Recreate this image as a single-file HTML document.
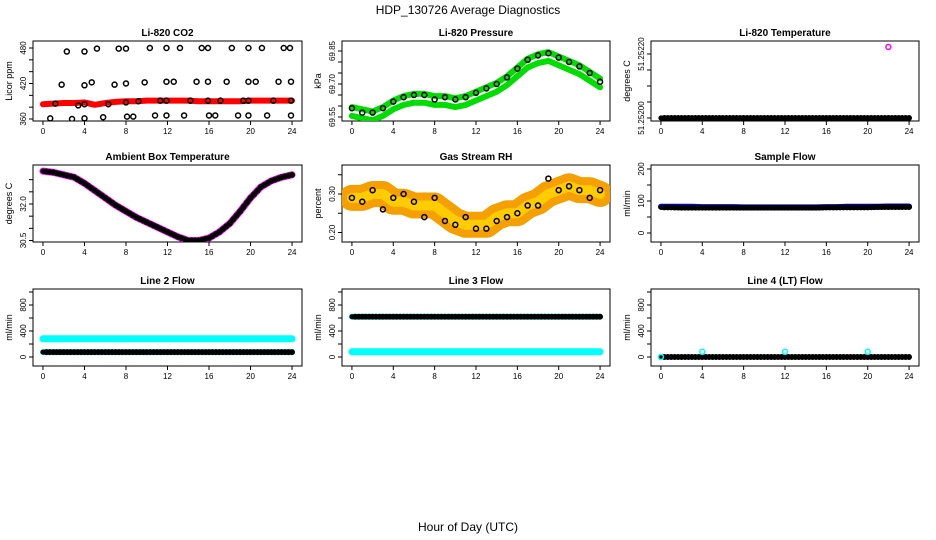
<!DOCTYPE html>
<html><head><meta charset="utf-8"><style>
html,body{margin:0;padding:0;background:#fff}
svg{display:block;font-family:"Liberation Sans",sans-serif}
</style></head><body>
<svg id="c" width="936" height="540" viewBox="0 0 936 540">
<text x="468" y="14" text-anchor="middle" font-size="12">HDP_130726  Average Diagnostics</text>
<text x="468" y="531" text-anchor="middle" font-size="12">Hour of Day (UTC)</text>
</svg>
<script>
const H=[0,1,2,3,4,5,6,7,8,9,10,11,12,13,14,15,16,17,18,19,20,21,22,23,24];
const xTicks=[0,4,8,12,16,20,24];
// CO2
const co2Red=[385,386,387,387,388,384,387,389,390,390,391,391,391,391,391,390,390,390,390,390,391,391,391,391,391];
const co2BlackX=[0.7,1.2,2.3,1.8,2.8,3.4,4,4,4,4,4.7,5.2,5.8,6.3,6.9,7.3,8,8,8,8.1,8.7,9.2,9.8,10.3,10.8,11.3,11.9,11.9,11.9,11.9,12.6,13.2,13.6,14.2,14.8,15.3,15.9,15.9,15.9,16,16.6,17.1,17.7,18.2,18.8,19.3,19.8,19.8,19.8,19.8,20.5,21.1,21.6,22.2,22.7,23.2,23.8,23.9,23.9,23.9];
const co2BlackY=[361,386,474,418,360,383,385,474,417,361,422,479,363,385,418,479,479,420,388,364,364,390,422,480,366,391,480,423,391,366,423,480,366,391,423,480,480,423,391,366,366,391,423,480,366,391,480,423,391,366,423,480,366,391,423,480,480,423,391,366];
// Pressure
const presGreen=[69.58,69.57,69.56,69.58,69.61,69.63,69.64,69.64,69.63,69.63,69.62,69.63,69.65,69.67,69.69,69.72,69.76,69.80,69.82,69.83,69.81,69.79,69.77,69.74,69.71];
const presBlack=[69.59,69.57,69.57,69.59,69.62,69.64,69.65,69.65,69.63,69.64,69.63,69.64,69.66,69.68,69.70,69.73,69.77,69.81,69.83,69.84,69.82,69.80,69.78,69.75,69.71];
// Li-820 temperature
const tempMag=[51.252,51.252,51.252,51.252,51.252,51.252,51.252,51.252,51.252,51.252,51.252,51.252,51.252,51.252,51.252,51.252,51.252,51.252,51.252,51.252,51.252,51.252,51.252,51.252,51.252];
const tempOutX=[22];
const tempOutY=[51.252222];
// Ambient
const ambT=[33.35,33.3,33.2,33.1,32.85,32.55,32.25,31.95,31.7,31.45,31.25,31.05,30.85,30.65,30.5,30.5,30.6,30.85,31.2,31.7,32.25,32.7,32.95,33.1,33.2];
// RH
const rhBand=[0.29,0.29,0.30,0.30,0.28,0.28,0.27,0.27,0.27,0.25,0.23,0.22,0.22,0.22,0.24,0.25,0.25,0.27,0.28,0.30,0.31,0.32,0.31,0.31,0.30];
const rhBlack=[0.29,0.28,0.31,0.26,0.29,0.30,0.28,0.24,0.29,0.23,0.22,0.24,0.21,0.21,0.23,0.24,0.25,0.27,0.27,0.34,0.31,0.32,0.31,0.29,0.31];
// Flows
const sampleBlue=[82,82,82,82,81,81,81,81,80,80,80,80,80,80,80,80,81,81,82,82,82,82,83,83,83];
const sampleBlack=[80,80,79,79,79,79,79,79,79,79,79,79,79,79,79,79,80,80,80,80,80,81,81,81,81];
const l2Cyan=[280,280,280,280,280,280,280,280,280,280,280,280,280,280,280,280,280,280,280,280,280,280,280,280,280];
const l2Black=[75,75,75,75,75,75,75,75,75,75,75,75,75,75,75,75,75,75,75,75,75,75,75,75,75];
const l3Cyan=[620,620,620,620,620,620,620,620,620,620,620,620,620,620,620,620,620,620,620,620,620,620,620,620,620];
const l3Low=[80,80,80,80,80,80,80,80,80,80,80,80,80,80,80,80,80,80,80,80,80,80,80,80,80];
const l4Black=[0,0,0,0,0,0,0,0,0,0,0,0,0,0,0,0,0,0,0,0,0,0,0,0,0];
const l4SpikeX=[0,4,12,20];
const l4SpikeY=[0,80,80,80];

const NS="http://www.w3.org/2000/svg";
const svg=document.getElementById('c');
function mk(tag,attrs,parent){const e=document.createElementNS(NS,tag);for(const k in attrs)e.setAttribute(k,attrs[k]);(parent||svg).appendChild(e);return e;}
const cols=[[33,302],[342,610],[651,919]];
const rows=[[41,121],[165,242],[289,366]];
function panel(col,row,title,ylab,cal,ticks,labels,name){
  const [x0,x1]=cols[col],[y0,y1]=rows[row];
  const g=mk('g',{});
  
  
  const w=x1-x0;
  const sx=h=>x0+w*((h+0.96)/25.92);
  const sy=v=>cal[1]+(v-cal[0])*(cal[3]-cal[1])/(cal[2]-cal[0]);
  const r=mk('rect',{x:x0,y:y0,width:w,height:y1-y0,fill:'none',stroke:'#000','stroke-width':1},g);
  
  
  const t=mk('text',{x:(x0+x1)/2,y:y0-5,'text-anchor':'middle','font-size':10,'font-weight':'bold'},g);
  t.textContent=title;
  
  
  const yl=mk('text',{transform:`translate(${x0-21},${(y0+y1)/2}) rotate(-90)`,'text-anchor':'middle','font-size':9},g);
  yl.textContent=ylab;
  
  
  xTicks.forEach(h=>{const X=sx(h);mk('line',{x1:X,x2:X,y1:y1,y2:y1+4,stroke:'#000'},g);
    const tx=mk('text',{x:X,y:y1+13,'text-anchor':'middle','font-size':8},g);tx.textContent=h;
    
    });
  ticks.forEach(v=>{const Y=sy(v);mk('line',{x1:x0-4,x2:x0,y1:Y,y2:Y,stroke:'#000'},g);});
  labels.forEach(l=>{const Y=sy(l[0]);const tx=mk('text',{transform:`translate(${x0-7},${Y}) rotate(-90)`,'text-anchor':'middle','font-size':8},g);tx.textContent=l[1];
    
    });
  const clip='cp'+col+row;
  const cp=mk('clipPath',{id:clip},g);mk('rect',{x:x0,y:y0,width:w,height:y1-y0},cp);
  const d=mk('g',{'clip-path':`url(#${clip})`},g);
  return {sx,sy,d};
}
function band(p,xs,ys,color,sw,name){
  const pts=xs.map((h,i)=>p.sx(h)+','+p.sy(ys[i])).join(' ');
  const e=mk('polyline',{points:pts,fill:'none',stroke:color,'stroke-width':sw,'stroke-linejoin':'round','stroke-linecap':'round'},p.d);
  
  
}
function pts(p,xs,ys,color,name,rad){
  xs.forEach((h,i)=>{const c=mk('circle',{cx:p.sx(h),cy:p.sy(ys[i]),r:rad||2.5,fill:'none',stroke:color,'stroke-width':1.5},p.d);
    
    });
}
function dense(p,ys,color,name){
  band(p,H,ys,color,5,name+'-band');
  const xs=[],vs=[];
  H.forEach((h,i)=>{if(i<24){for(let k=0;k<3;k++){xs.push(h+k/3+0.33);vs.push(ys[i]+(ys[i+1]-ys[i])*(k/3+0.33));}}});
  pts(p,xs,vs,color,name,2.2);
}
// Row 1
let p=panel(0,0,'Li-820 CO2','Licor ppm',[360,119,480,48],[360,380,400,420,440,460,480],[[360,'360'],[420,'420'],[480,'480']],'co2-panel');
band(p,H,co2Red,'#ff0000',6,'co2-red-series');
pts(p,co2BlackX,co2BlackY,'#000','co2-black-point');
p=panel(1,0,'Li-820 Pressure','kPa',[69.55,117,69.85,51],[69.55,69.6,69.65,69.7,69.75,69.8,69.85],[[69.55,'69.55'],[69.70,'69.70'],[69.85,'69.85']],'pressure-panel');
band(p,H,presGreen.map(v=>v+0.015),'#00dd00',6,'pressure-green-upper');
band(p,H,presGreen.map(v=>v-0.025),'#00dd00',6,'pressure-green-lower');
pts(p,H,presBlack,'#000','pressure-black-point');
p=panel(2,0,'Li-820 Temperature','degrees C',[51.252,118,51.2522,54],[51.252,51.25205,51.2521,51.25215,51.2522],[[51.252,'51.25200'],[51.2522,'51.25220']],'li820-temp-panel');
band(p,H,tempMag,'#ff00ff',5,'temp-magenta-series');
dense(p,tempMag,'#000','temp-black-point');
pts(p,tempOutX,tempOutY,'#ff00ff','temp-outlier');
// Row 2
p=panel(0,1,'Ambient Box Temperature','degrees C',[30.5,240.5,32,204],[30.5,31,31.5,32,32.5,33],[[30.5,'30.5'],[32,'32.0']],'ambient-temp-panel');
band(p,H,ambT,'#ff00ff',7,'ambient-magenta-series');
dense(p,ambT,'#000','ambient-black-point');
p=panel(1,1,'Gas Stream RH','percent',[0.2,232.5,0.3,194],[0.2,0.25,0.3,0.35],[[0.2,'0.20'],[0.3,'0.30']],'rh-panel');
band(p,H,rhBand,'#f5a000',26,'rh-orange-band');
band(p,H,rhBand,'#ffcc00',10,'rh-yellow-core');
pts(p,H,rhBlack,'#000','rh-black-point');
p=panel(2,1,'Sample Flow','ml/min',[0,233,200,169],[0,50,100,150,200],[[0,'0'],[100,'100'],[200,'200']],'sample-flow-panel');
band(p,H,sampleBlue,'#0000ff',6,'sample-blue-series');
dense(p,sampleBlack,'#000','sample-black-point');
// Row 3
const flowCal=[0,357,800,305],flowT=[0,200,400,600,800,1000],flowL=[[0,'0'],[400,'400'],[800,'800']];
p=panel(0,2,'Line 2 Flow','ml/min',flowCal,flowT,flowL,'line2-flow-panel');
band(p,H,l2Cyan,'#00ffff',7,'line2-cyan-series');
band(p,H,l2Black,'#00ffff',6,'line2-cyan-low');
dense(p,l2Black,'#000','line2-black-point');
p=panel(1,2,'Line 3 Flow','ml/min',flowCal,flowT,flowL,'line3-flow-panel');
band(p,H,l3Cyan,'#00ffff',6,'line3-cyan-series');
band(p,H,l3Low,'#00ffff',7,'line3-cyan-low');
dense(p,l3Cyan,'#000','line3-black-point');
p=panel(2,2,'Line 4 (LT) Flow','ml/min',flowCal,flowT,flowL,'line4-flow-panel');
dense(p,l4Black,'#000','line4-black-point');
pts(p,l4SpikeX,l4SpikeY,'#00ffff','line4-cyan-point');
</script>
</body></html>
